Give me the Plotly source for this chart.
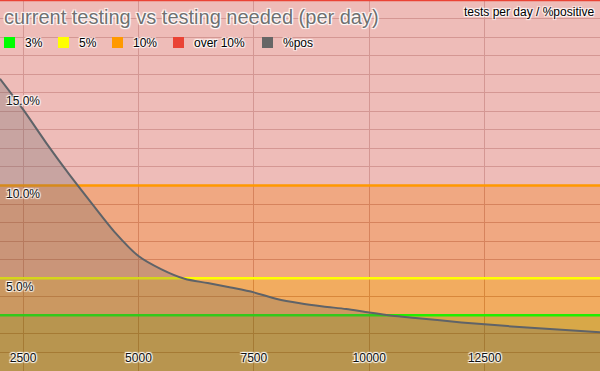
import plotly.graph_objects as go

# ---- data ----
tests_per_day = [2000, 2500, 3000, 3500, 4000, 4500, 5000, 5500, 6000, 6500, 7000, 7500,
                 8000, 8500, 9000, 9500, 10000, 10500, 11000, 12000, 13000, 14000, 15000]
pct_positive = [15.75, 14.1, 12.3, 10.6, 9.0, 7.45, 6.2, 5.48, 4.97, 4.74, 4.5, 4.24,
                3.88, 3.65, 3.48, 3.34, 3.15, 2.98, 2.86, 2.62, 2.42, 2.25, 2.09]
x_extent = [2000, 15000]
band_names = ["3%", "5%", "10%", "over 10%"]
band_levels = [3, 5, 10, 20]
line_colors = ["#22ee00", "#ffff00", "#ff9900", "#ea4335"]
band_fills = ["rgba(203,139,11,0.75)", "rgba(238,144,43,0.75)",
              "rgba(235,139,88,0.75)", "rgba(232,166,160,0.75)"]
legend_names = ["3%", "5%", "10%", "over 10%", "%pos"]
legend_colors = ["#00ff00", "#ffff00", "#ff9900", "#ea4335", "#666666"]
x_ticks = [2500, 5000, 7500, 10000, 12500]
y_ticks = [5, 10, 15]

FONT = "Liberation Sans, Arial, sans-serif"
HALO = "-1px -1px 1px #fff, 1px -1px 1px #fff, -1px 1px 1px #fff, 1px 1px 1px #fff"
W, H = 600, 371
y_range = [0, 0.2]

fig = go.Figure()
for i, (name, lvl) in enumerate(zip(band_names, band_levels)):
    fig.add_trace(go.Scatter(
        x=x_extent, y=[lvl / 100] * len(x_extent), name=name, mode="lines",
        line=dict(color=line_colors[i], width=2.5),
        fill="tozeroy" if i == 0 else "tonexty", fillcolor=band_fills[i],
        showlegend=False, hoverinfo="skip"))

fig.add_trace(go.Scatter(
    x=tests_per_day, y=[v / 100 for v in pct_positive], name="%pos", mode="lines",
    line=dict(color="#5f6368", width=2, shape="spline", smoothing=0.8),
    fill="tozeroy", fillcolor="rgba(100,100,100,0.27)", showlegend=False))

grid = "rgba(150,110,110,1)"
fig.update_layout(
    width=W, height=H,
    margin=dict(l=0, r=0, t=0, b=0, pad=0, autoexpand=False),
    paper_bgcolor="white", plot_bgcolor="white",
    font=dict(family=FONT, size=12, color="#000"),
    xaxis=dict(range=x_extent, tickvals=x_ticks, showgrid=True, gridcolor=grid, gridwidth=1,
               zeroline=False, showline=False, ticks="", showticklabels=False,
               automargin=False, domain=[0, 1]),
    xaxis2=dict(range=x_extent, tickvals=x_ticks, overlaying="x", anchor="free",
                position=22 / H, side="bottom", showgrid=False, zeroline=False,
                showline=False, ticks="", automargin=False, tickformat="d",
                tickfont=dict(size=12, color="#111", shadow=HALO)),
    yaxis=dict(range=y_range, tickvals=[v / 100 for v in y_ticks],
               showgrid=True, gridcolor=grid, gridwidth=1, zeroline=False, showline=False,
               ticks="", showticklabels=False, automargin=False, domain=[0, 1],
               minor=dict(dtick=0.01, showgrid=True, gridcolor=grid, gridwidth=1)),
    yaxis2=dict(range=y_range, tickvals=[v / 100 for v in y_ticks], tickformat=".1%",
                overlaying="y", anchor="free", position=5 / W, side="right",
                showgrid=False, zeroline=False, showline=False, ticks="",
                ticklabelposition="outside bottom", automargin=False,
                tickfont=dict(size=12, color="#111", shadow=HALO)),
)
# invisible carrier so the free label axes are drawn
fig.add_trace(go.Scatter(x=x_extent, y=[None, None], xaxis="x2", yaxis="y2",
                         mode="lines", showlegend=False, hoverinfo="skip"))

# title
fig.add_annotation(text="current testing vs testing needed (per day)", xref="paper", yref="paper",
                   x=2 / W, y=1 - 4 / H, xanchor="left", yanchor="top", showarrow=False,
                   font=dict(size=20, color="#707070", family=FONT, shadow=HALO))
fig.add_annotation(text="tests per day / %positive", xref="paper", yref="paper",
                   x=1 - 4 / W, y=1 - 3 / H, xanchor="right", yanchor="top", showarrow=False,
                   font=dict(size=12, color="#000", family=FONT, shadow=HALO))

# legend
leg_x = [4, 58, 112, 173, 262]
for name, col, lx in zip(legend_names, legend_colors, leg_x):
    fig.add_shape(type="rect", xref="paper", yref="paper",
                  x0=lx / W, x1=(lx + 11) / W, y0=1 - 48 / H, y1=1 - 37 / H,
                  fillcolor=col, line=dict(width=0))
    fig.add_annotation(text=name, xref="paper", yref="paper", x=(lx + 19) / W, y=1 - 42.5 / H,
                       xanchor="left", yanchor="middle", showarrow=False,
                       font=dict(size=12, color="#000", family=FONT, shadow=HALO))

fig.write_html("out.html", config={"displayModeBar": False},
               post_script="document.body.style.margin='0';")
